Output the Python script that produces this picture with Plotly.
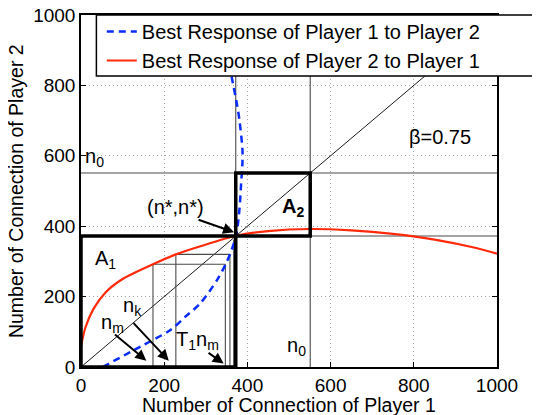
import plotly.graph_objects as go

# ---- data ----
red_x = [0, 10, 30, 60, 100, 173, 228, 287, 373, 450, 551, 650, 750, 850, 950, 1000]
red_y = [58, 110, 165, 213, 250, 292, 320, 343, 373, 386, 392, 388, 378, 362, 338, 322]

blue_y = [0, 58, 105, 143, 181, 247, 290, 323, 373, 450, 523, 578, 620, 700, 739, 825, 900, 1000]
blue_x = [52, 143, 215, 251, 287, 327, 347, 359, 373, 381, 385, 388, 388, 381, 376, 362, 350, 332]

n_star = 372
n0 = 551

# iteration steps inside A1
iter_start = [173, 228]
iter_top = [292, 320]
iter_end = [347, 358]
extra_vert_x = 367
extra_vert_top = 362

tick_vals = [0, 200, 400, 600, 800, 1000]
tick_text = ["0", "200", "400", "600", "800", "1000"]

series_names = ["Best Response of Player 1 to Player 2",
                "Best Response of Player 2 to Player 1"]
x_title = "Number of Connection of Player 1"
y_title = "Number of Connection of Player 2"

FONT = "Liberation Sans, Arial, Helvetica, sans-serif"

fig = go.Figure()
fig.add_trace(go.Scatter(x=blue_x, y=blue_y, mode="lines", name=series_names[0],
                         line=dict(color="#0a2cff", width=2.5, dash="7px,5px",
                                   shape="spline", smoothing=0.8)))
fig.add_trace(go.Scatter(x=red_x, y=red_y, mode="lines", name=series_names[1],
                         line=dict(color="#ff2a0a", width=2.2, shape="spline", smoothing=0.8)))

shapes = []
thin = dict(color="#4a4a4a", width=1.1)
shapes.append(dict(type="line", xref="x", yref="y", x0=0, x1=1000, y0=n0, y1=n0, line=thin, layer="between"))
shapes.append(dict(type="line", xref="x", yref="y", x0=n0, x1=n0, y0=0, y1=1000, line=thin, layer="between"))
shapes.append(dict(type="line", xref="x", yref="y", x0=0, x1=1000, y0=n_star, y1=n_star, line=thin, layer="between"))
shapes.append(dict(type="line", xref="x", yref="y", x0=n_star, x1=n_star, y0=0, y1=1000, line=thin, layer="between"))
shapes.append(dict(type="line", xref="x", yref="y", x0=0, x1=1000, y0=0, y1=1000,
                   line=dict(color="black", width=0.9), layer="between"))
for xs, yt, xe in zip(iter_start, iter_top, iter_end):
    shapes.append(dict(type="line", xref="x", yref="y", x0=xs, x1=xs, y0=0, y1=yt, line=thin, layer="between"))
    shapes.append(dict(type="line", xref="x", yref="y", x0=xs, x1=xe, y0=yt, y1=yt, line=thin, layer="between"))
    shapes.append(dict(type="line", xref="x", yref="y", x0=xe, x1=xe, y0=0, y1=yt, line=thin, layer="between"))
shapes.append(dict(type="line", xref="x", yref="y", x0=extra_vert_x, x1=extra_vert_x, y0=0, y1=extra_vert_top,
                   line=thin, layer="between"))
thick = dict(color="black", width=3.5)
shapes.append(dict(type="rect", xref="x", yref="y", x0=0, x1=n_star, y0=0, y1=n_star, line=thick, layer="above"))
shapes.append(dict(type="rect", xref="x", yref="y", x0=n_star, x1=n0, y0=n_star, y1=n0, line=thick, layer="above"))
# legend frame (white box, extends past the right edge as in the reference)
shapes.append(dict(type="rect", xref="paper", yref="paper", x0=0.037, x1=1.2, y0=0.827, y1=1.0,
                   line=dict(color="black", width=1.5), fillcolor="white", opacity=1, layer="above"))

ann = []
def label(x, y, text, size=20):
    ann.append(dict(x=x, y=y, xref="x", yref="y", text=text, showarrow=False,
                    font=dict(size=size, color="black", family=FONT)))

def arrow(x0, y0, x1, y1):
    ann.append(dict(x=x1, y=y1, ax=x0, ay=y0, xref="x", yref="y", axref="x", ayref="y",
                    text="", showarrow=True, arrowhead=2, arrowsize=1.1, arrowwidth=2,
                    arrowcolor="black", standoff=0))

label(226, 455, "(n*,n*)")
arrow(279, 420, 368, 383)
label(58, 305, "A<sub>1</sub>")
label(510, 452, "<b>A<sub>2</sub></b>")
label(123, 173, "n<sub>k</sub>")
arrow(123, 129, 211, 18)
label(75, 123, "n<sub>m</sub>")
arrow(78, 96, 157, 18)
label(280, 75, "T<sub>1</sub>n<sub>m</sub>")
arrow(303, 43, 343, 10)
label(518, 57, "n<sub>0</sub>")
label(33, 594, "n<sub>0</sub>")
label(864, 654, "\u03b2=0.75")

# axis titles as paper annotations for exact placement
ann.append(dict(x=0.5, y=-0.108, xref="paper", yref="paper", text=x_title, showarrow=False,
                xanchor="center", yanchor="middle",
                font=dict(size=19.5, color="black", family=FONT)))
ann.append(dict(x=-0.156, y=0.5, xref="paper", yref="paper", text=y_title, showarrow=False,
                textangle=-90, xanchor="center", yanchor="middle",
                font=dict(size=19.5, color="black", family=FONT)))

axis_common = dict(range=[0, 1000], tickvals=tick_vals, ticktext=tick_text,
                   showgrid=True, gridcolor="#a8a8a8", griddash="1px,3px", gridwidth=1,
                   zeroline=False, showline=True, linecolor="black", linewidth=1.5,
                   mirror="ticks", ticks="inside", ticklen=5, tickcolor="black",
                   automargin=False, ticklabeloverflow="allow",
                   tickfont=dict(size=19, color="black", family=FONT))

# the page body has an 8px margin, so the figure is sized/offset to compensate
fig.update_layout(
    width=532, height=407,
    margin=dict(l=73, r=43, t=7, b=48, autoexpand=False),
    paper_bgcolor="white", plot_bgcolor="white",
    font=dict(family=FONT, color="black"),
    shapes=shapes, annotations=ann,
    showlegend=True,
    legend=dict(x=0.05, y=0.912, xanchor="left", yanchor="middle",
                bgcolor="rgba(0,0,0,0)", borderwidth=0,
                font=dict(size=20, color="black", family=FONT),
                tracegroupgap=0, itemwidth=30),
)
fig.update_xaxes(**axis_common)
fig.update_yaxes(**axis_common)

fig.write_html("out.html")
